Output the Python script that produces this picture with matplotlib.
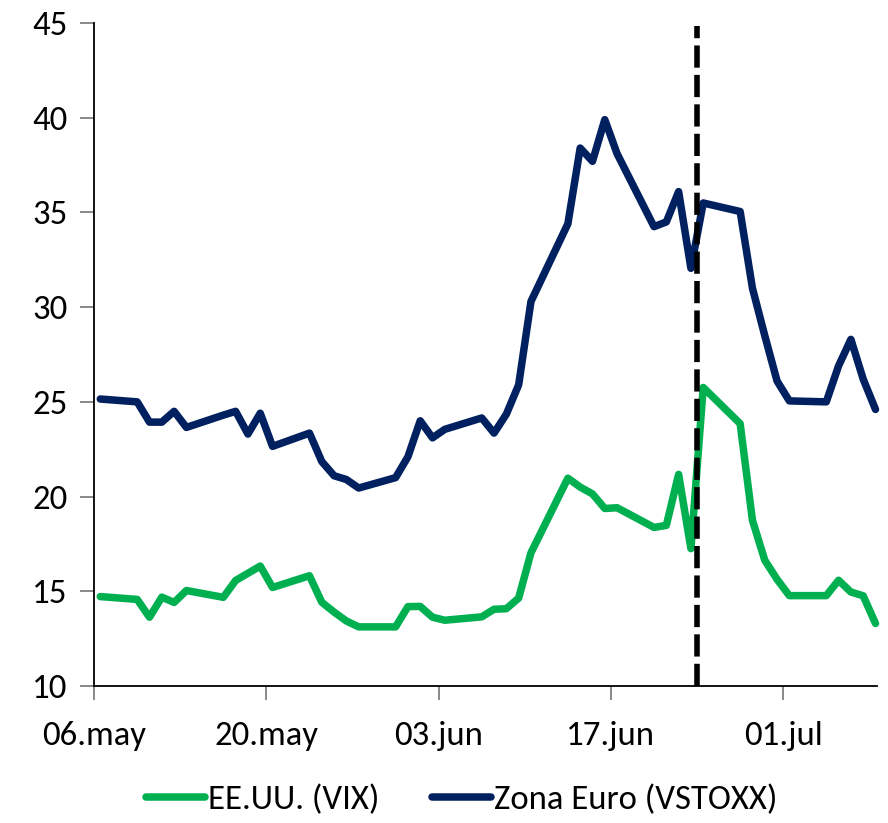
import pandas as pd
import matplotlib
matplotlib.use("Agg")
import matplotlib.pyplot as plt
from matplotlib import font_manager

# trading days (holidays carried forward)
dates = ["2016-05-06", "2016-05-09", "2016-05-10", "2016-05-11", "2016-05-12", "2016-05-13",
         "2016-05-16", "2016-05-17", "2016-05-18", "2016-05-19", "2016-05-20",
         "2016-05-23", "2016-05-24", "2016-05-25", "2016-05-26", "2016-05-27",
         "2016-05-30", "2016-05-31", "2016-06-01", "2016-06-02", "2016-06-03",
         "2016-06-06", "2016-06-07", "2016-06-08", "2016-06-09", "2016-06-10",
         "2016-06-13", "2016-06-14", "2016-06-15", "2016-06-16", "2016-06-17",
         "2016-06-20", "2016-06-21", "2016-06-22", "2016-06-23", "2016-06-24",
         "2016-06-27", "2016-06-28", "2016-06-29", "2016-06-30", "2016-07-01",
         "2016-07-04", "2016-07-05", "2016-07-06", "2016-07-07", "2016-07-08"]

vix = [14.72, 14.57, 13.63, 14.69, 14.41, 15.04,
       14.68, 15.57, 15.95, 16.33, 15.20,
       15.82, 14.42, 13.90, 13.43, 13.12,
       13.12, 14.19, 14.20, 13.63, 13.47,
       13.65, 14.05, 14.08, 14.64, 17.03,
       20.97, 20.50, 20.14, 19.37, 19.41,
       18.37, 18.48, 21.17, 17.25, 25.76,
       23.85, 18.75, 16.64, 15.63, 14.77,
       14.77, 15.58, 14.96, 14.76, 13.30]

vstoxx = [25.15, 25.00, 23.93, 23.93, 24.50, 23.65,
          24.30, 24.50, 23.30, 24.40, 22.65,
          23.35, 21.85, 21.10, 20.90, 20.45,
          21.00, 22.10, 24.00, 23.10, 23.55,
          24.15, 23.35, 24.35, 25.90, 30.30,
          34.40, 38.40, 37.70, 39.90, 38.10,
          34.25, 34.50, 36.10, 32.05, 35.50,
          35.05, 31.00, 28.50, 26.10, 25.05,
          25.00, 26.90, 28.30, 26.20, 24.60]

labels = ["EE.UU. (VIX)", "Zona Euro (VSTOXX)"]
tick_dates = ["2016-05-06", "2016-05-20", "2016-06-03", "2016-06-17", "2016-07-01"]
tick_labels = ["06.may", "20.may", "03.jun", "17.jun", "01.jul"]
event_date = "2016-06-24"

installed = {f.name for f in font_manager.fontManager.ttflist}
fam = [f for f in ["Carlito", "Liberation Sans Narrow", "Lato"] if f in installed]
plt.rcParams["font.family"] = fam[:1] + ["DejaVu Sans"]

x = pd.to_datetime(dates) + pd.Timedelta(hours=12)
start = pd.Timestamp(dates[0])

fig = plt.figure(figsize=(8.88, 8.23), dpi=100)
ax = fig.add_axes([0.106, 0.1665, 0.882, 0.8055])

ax.plot(x, vix, color="#00B050", lw=5.4, solid_joinstyle="round", solid_capstyle="round",
        label=labels[0], zorder=3, clip_on=False)
ax.plot(x, vstoxx, color="#002060", lw=5.4, solid_joinstyle="round", solid_capstyle="round",
        label=labels[1], zorder=3, clip_on=False)
ax.axvline(pd.Timestamp(event_date), ymax=0.995, color="black", lw=4, ls=(0, (4, 1.3)), zorder=4)

ax.set_ylim(10, 45)
ax.set_yticks(range(10, 46, 5))
ax.set_xlim(start, start + pd.Timedelta(days=63.65))
ax.set_xticks(pd.to_datetime(tick_dates))
ax.set_xticklabels(tick_labels)

for s in ["top", "right"]:
    ax.spines[s].set_visible(False)
for s in ["left", "bottom"]:
    ax.spines[s].set_linewidth(1.3)
ax.tick_params(axis="both", labelsize=25, color="#808080", width=1.3, length=10, direction="out")
ax.tick_params(axis="y", pad=9)
ax.tick_params(axis="x", pad=15)

fig.legend(loc="center", bbox_to_anchor=(0.52, 0.028), ncol=2, frameon=False, fontsize=25,
           handlelength=1.7, handletextpad=0.1, columnspacing=1.5)

fig.savefig("out.png", dpi=100)
